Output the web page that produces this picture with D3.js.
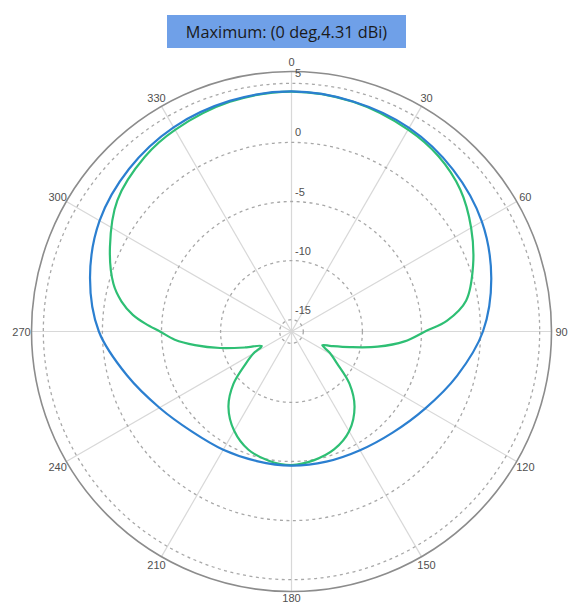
<!DOCTYPE html>
<html>
<head>
<meta charset="utf-8">
<script src="https://cdn.jsdelivr.net/npm/d3@7"></script>
<style>
  html, body { margin: 0; padding: 0; background: #fff; }
  svg { display: block; }
</style>
</head>
<body>
<svg id="chart" width="570" height="605"></svg>
<script>
// ---- data ----
const titleText = "Maximum: (0 deg,4.31 dBi)";
const angleTicks = [0, 30, 60, 90, 120, 150, 180, 210, 240, 270, 300, 330];
const radialTicks = [5, 0, -5, -10, -15];
const radialDomain = [-16, 6];

const blueAngles = [0, 15, 30, 45, 60, 75, 90, 105, 120, 135, 150, 165, 180, 195, 210, 225, 240, 255, 270, 285, 300, 315, 330, 345];
const blueGain   = [4.31, 4.15, 3.9, 3.35, 2.6, 1.5, 0.2, -1.5, -2.95, -3.9, -4.4, -4.6, -4.65, -4.65, -4.45, -4.05, -3.1, -1.6, 0.3, 1.65, 2.75, 3.45, 3.95, 4.2];

const greenAngles = [0, 15, 30, 40, 50, 60, 70, 80, 86, 90, 95, 100, 105, 110, 114, 119, 125, 132, 140, 150, 160, 170, 180, 190, 200, 210, 220, 228, 235, 240, 244, 251, 257, 262, 266, 270, 273, 276, 280, 285, 295, 307, 320, 330, 345];
const greenGain   = [4.3, 4.12, 3.72, 3.35, 2.65, 1.55, 0.35, -1.0, -2.8, -4.7, -6.4, -8.6, -10.9, -12.4, -13.15, -12.3, -11.3, -9.4, -7.7, -6.25, -5.4, -4.95, -4.7, -4.9, -5.35, -6.3, -7.7, -9.4, -11.3, -12.3, -13.2, -11.85, -9.8, -7.75, -6.1, -4.87, -3.65, -2.5, -1.4, -0.4, 0.95, 2.45, 3.3, 3.7, 4.12];

// ---- layout ----
const cx = 291.5, cy = 331.5, R = 260;
const svg = d3.select("#chart");
const r = d3.scaleLinear().domain(radialDomain).range([0, R]);
const toRad = d => d * Math.PI / 180;

// title box
svg.append("rect")
  .attr("x", 167).attr("y", 15).attr("width", 239).attr("height", 33)
  .attr("fill", "#6fa0e8");
svg.append("text")
  .attr("x", 286.5).attr("y", 32)
  .attr("text-anchor", "middle").attr("dominant-baseline", "central")
  .attr("font-family", "'Open Sans', 'Liberation Sans', sans-serif")
  .attr("font-size", 16.3).attr("fill", "#1a1a1a")
  .text(titleText);

const g = svg.append("g").attr("transform", `translate(${cx},${cy})`);

// spokes
g.selectAll("line.spoke").data(angleTicks).join("line")
  .attr("class", "spoke")
  .attr("x1", 0).attr("y1", 0)
  .attr("x2", d => R * Math.sin(toRad(d)))
  .attr("y2", d => -R * Math.cos(toRad(d)))
  .attr("stroke", "#d8d8d8").attr("stroke-width", 1.2);

// dashed rings
g.selectAll("circle.ring").data(radialTicks).join("circle")
  .attr("class", "ring")
  .attr("r", d => r(d))
  .attr("fill", "none")
  .attr("stroke", "#a8a8a8").attr("stroke-width", 1.3)
  .attr("stroke-dasharray", "3,3.5");

// outer circle
g.append("circle").attr("r", R)
  .attr("fill", "none").attr("stroke", "#8c8c8c").attr("stroke-width", 1.6);

// radial labels
g.selectAll("text.rlab").data(radialTicks).join("text")
  .attr("class", "rlab")
  .attr("x", 3.5)
  .attr("y", d => -r(d) - 6)
  .attr("font-family", "'Liberation Sans', Arial, sans-serif")
  .attr("font-size", 11).attr("fill", "#505050")
  .text(d => d);

// angle labels
g.selectAll("text.alab").data(angleTicks).join("text")
  .attr("class", "alab")
  .attr("x", d => 270 * Math.sin(toRad(d)))
  .attr("y", d => -(d === 180 ? 266 : 270) * Math.cos(toRad(d)))
  .attr("text-anchor", "middle").attr("dominant-baseline", "central")
  .attr("font-family", "'Liberation Sans', Arial, sans-serif")
  .attr("font-size", 11).attr("fill", "#505050")
  .text(d => d);

// curves
const line = d3.lineRadial()
  .angle(d => toRad(d[0]))
  .radius(d => r(d[1]))
  .curve(d3.curveCatmullRomClosed.alpha(0.5));

const blueData = blueAngles.map((a, i) => [a, blueGain[i]]);
const greenData = greenAngles.map((a, i) => [a, greenGain[i]]);

g.append("path").attr("d", line(greenData))
  .attr("fill", "none").attr("stroke", "#2ebf74").attr("stroke-width", 2.2);
g.append("path").attr("d", line(blueData))
  .attr("fill", "none").attr("stroke", "#2b7fd0").attr("stroke-width", 2.2);
</script>
</body>
</html>
